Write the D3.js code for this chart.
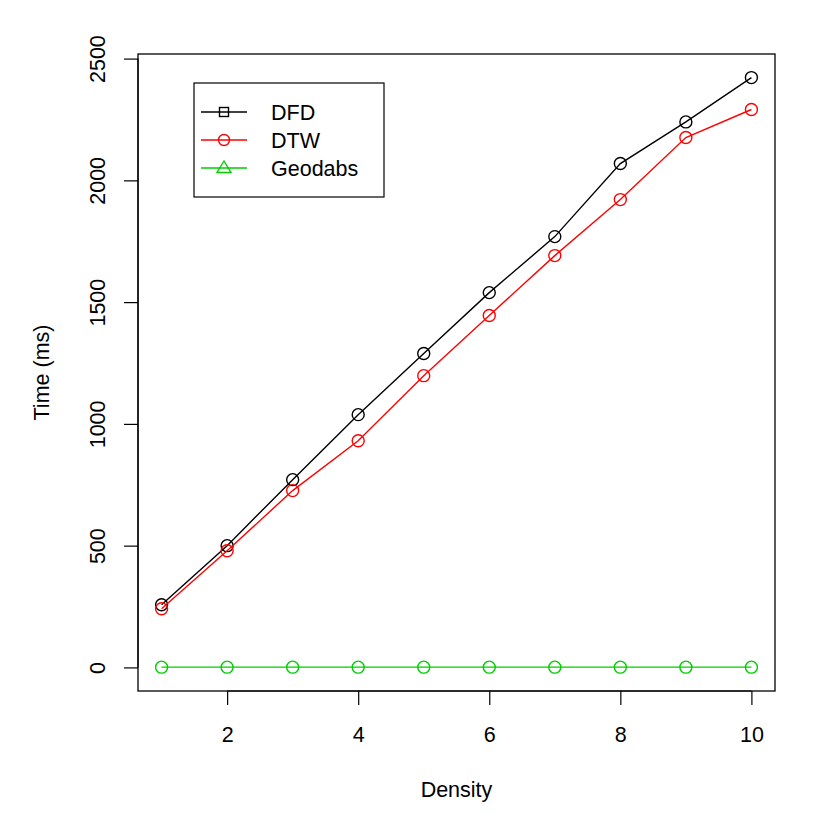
<!DOCTYPE html>
<html>
<head>
<meta charset="utf-8">
<script src="https://cdn.jsdelivr.net/npm/d3@7"></script>
<style>
  body { margin: 0; background: #fff; }
  text { font-family: "Liberation Sans", Arial, sans-serif; fill: #000; }
</style>
</head>
<body>
<div id="chart"></div>
<script>
// density values on x, timings in ms per method
const density = [1, 2, 3, 4, 5, 6, 7, 8, 9, 10];
const dfd     = [257, 500, 771, 1038, 1289, 1539, 1769, 2069, 2240, 2422];
const dtw     = [241, 479, 726, 931, 1198, 1445, 1691, 1921, 2176, 2291];
const geodabs = [1, 1, 1, 1, 1, 1, 1, 1, 1, 1];

const xTicks = [2, 4, 6, 8, 10];
const yTicks = [0, 500, 1000, 1500, 2000, 2500];

const series = [
  { name: "DFD", values: dfd, color: "#000000", legendShape: "square" },
  { name: "DTW", values: dtw, color: "#ff0000", legendShape: "circle" },
  { name: "Geodabs", values: geodabs, color: "#00cd00", legendShape: "triangle" }
];

const width = 830, height = 830;
const box = { left: 138, right: 775, top: 54, bottom: 691 };
const fontSize = "21.5px";

const svg = d3.select("#chart").append("svg")
  .attr("width", width).attr("height", height);

// R style 4% padding of the data range
const xMin = d3.min(density), xMax = d3.max(density);
const xPad = (xMax - xMin) * 0.04;
const yAll = dfd.concat(dtw, geodabs);
const yMin = 0, yMax = d3.max(yAll);
const yPad = (yMax - yMin) * 0.04;

const x = d3.scaleLinear().domain([xMin - xPad, xMax + xPad]).range([box.left, box.right]);
const y = d3.scaleLinear().domain([yMin - yPad, yMax + yPad]).range([box.bottom, box.top]);

// axes
const xAxis = svg.append("g")
  .attr("transform", `translate(0,${box.bottom})`)
  .call(d3.axisBottom(x).tickValues(xTicks).tickSize(14).tickFormat(d3.format("d")));
xAxis.select(".domain").attr("d", `M${x(2)},0H${x(10)}`);
xAxis.selectAll(".tick text").attr("y", 51).attr("dy", 0);

const yAxis = svg.append("g")
  .attr("transform", `translate(${box.left},0)`)
  .call(d3.axisLeft(y).tickValues(yTicks).tickSize(14).tickFormat(d3.format("d")));
yAxis.select(".domain").attr("d", `M0,${y(0)}V${y(2500)}`);
yAxis.selectAll(".tick text")
  .attr("x", 0).attr("dy", 0)
  .attr("transform", "translate(-33.5,0) rotate(-90)")
  .attr("text-anchor", "middle");

svg.selectAll(".tick text").style("font-size", fontSize).style("font-family", "Liberation Sans, Arial, sans-serif");
svg.selectAll(".tick line, .domain").attr("stroke", "#000").attr("stroke-width", 1.2);

// plot box
svg.append("rect")
  .attr("x", box.left).attr("y", box.top)
  .attr("width", box.right - box.left).attr("height", box.bottom - box.top)
  .attr("fill", "none").attr("stroke", "#000").attr("stroke-width", 1.3);

// axis titles
svg.append("text")
  .attr("x", (box.left + box.right) / 2).attr("y", 797)
  .attr("text-anchor", "middle").style("font-size", fontSize)
  .text("Density");

svg.append("text")
  .attr("transform", `translate(49,${(box.top + box.bottom) / 2}) rotate(-90)`)
  .attr("text-anchor", "middle").style("font-size", fontSize)
  .text("Time (ms)");

// lines and points
const line = d3.line().x((d, i) => x(density[i])).y(d => y(d));

series.forEach(s => {
  svg.append("path")
    .datum(s.values)
    .attr("d", line)
    .attr("fill", "none")
    .attr("stroke", s.color)
    .attr("stroke-width", 1.4);

  svg.selectAll(null)
    .data(s.values)
    .enter()
    .append("circle")
    .attr("cx", (d, i) => x(density[i]))
    .attr("cy", d => y(d))
    .attr("r", 6)
    .attr("fill", "none")
    .attr("stroke", s.color)
    .attr("stroke-width", 1.4);
});

// legend
const legend = svg.append("g");
legend.append("rect")
  .attr("x", 194).attr("y", 83).attr("width", 190).attr("height", 114)
  .attr("fill", "#fff").attr("stroke", "#000").attr("stroke-width", 1.2);

series.forEach((s, i) => {
  const ly = 112 + i * 28;
  const mx = 224;
  legend.append("line")
    .attr("x1", 201).attr("x2", 247).attr("y1", ly).attr("y2", ly)
    .attr("stroke", s.color).attr("stroke-width", 1.4);
  if (s.legendShape === "square") {
    legend.append("rect")
      .attr("x", mx - 4.5).attr("y", ly - 4.5).attr("width", 9).attr("height", 9)
      .attr("fill", "none").attr("stroke", s.color).attr("stroke-width", 1.4);
  } else if (s.legendShape === "circle") {
    legend.append("circle")
      .attr("cx", mx).attr("cy", ly).attr("r", 5.5)
      .attr("fill", "none").attr("stroke", s.color).attr("stroke-width", 1.4);
  } else {
    legend.append("path")
      .attr("d", `M${mx},${ly - 7}L${mx + 7},${ly + 4.5}L${mx - 7},${ly + 4.5}Z`)
      .attr("fill", "none").attr("stroke", s.color).attr("stroke-width", 1.4);
  }
  legend.append("text")
    .attr("x", 271).attr("y", ly + 7.5)
    .style("font-size", fontSize)
    .text(s.name);
});
</script>
</body>
</html>
